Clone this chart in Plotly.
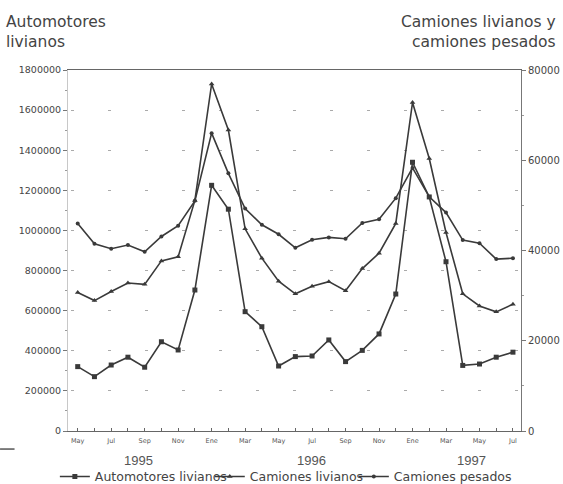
import plotly.graph_objects as go

# --- data -----------------------------------------------------------------
meses = ["May", "Jun", "Jul", "Ago", "Sep", "Oct", "Nov", "Dic",
         "Ene", "Feb", "Mar", "Abr", "May", "Jun", "Jul", "Ago", "Sep", "Oct", "Nov", "Dic",
         "Ene", "Feb", "Mar", "Abr", "May", "Jun", "Jul"]
anios = ["1995", "1996", "1997"]
anio_pos = [3.66, 13.95, 23.5]

automotores_livianos = [321000, 271000, 329000, 368000, 318000, 445000, 404000, 703000,
                        1225000, 1106000, 595000, 520000, 324000, 371000, 374000, 454000,
                        346000, 402000, 484000, 683000, 1340000, 1167000, 844000, 327000,
                        334000, 368000, 393000]

camiones_livianos = [30700, 28900, 30900, 32800, 32500, 37700, 38600, 51100,
                     76900, 66700, 44800, 38300, 33200, 30400, 32100, 33100,
                     31100, 36000, 39400, 46000, 72800, 60400, 44000, 30400,
                     27700, 26400, 28100]

camiones_pesados = [46000, 41500, 40400, 41200, 39700, 43100, 45500, 51000,
                    66000, 57100, 49300, 45700, 43600, 40600, 42400, 42900,
                    42600, 46100, 46900, 51600, 58300, 51900, 48400, 42300,
                    41600, 38100, 38300]

x_idx = list(range(len(meses)))
tick_text = [m if i % 2 == 0 else "" for i, m in enumerate(meses)]

LINE = "#3a3a3a"
TXT = "#444444"

fig = go.Figure()
fig.add_trace(go.Scatter(
    x=x_idx, y=automotores_livianos, name="Automotores livianos",
    mode="lines+markers", yaxis="y", legend="legend",
    line=dict(color=LINE, width=1.6),
    marker=dict(symbol="square", size=5, color=LINE)))
fig.add_trace(go.Scatter(
    x=x_idx, y=camiones_livianos, name="Camiones livianos",
    mode="lines+markers", yaxis="y2", legend="legend2",
    line=dict(color=LINE, width=1.6),
    marker=dict(symbol="triangle-up", size=5, color=LINE)))
fig.add_trace(go.Scatter(
    x=x_idx, y=camiones_pesados, name="Camiones pesados",
    mode="lines+markers", yaxis="y2", legend="legend3",
    line=dict(color=LINE, width=1.6),
    marker=dict(symbol="circle", size=4, color=LINE)))

annotations = [
    dict(text="Automotores<br>livianos", xref="paper", yref="paper",
         x=-0.141, y=1.163, xanchor="left", yanchor="top", align="left",
         showarrow=False, font=dict(size=15.5, color=TXT)),
    dict(text="Camiones livianos y<br>camiones pesados", xref="paper", yref="paper",
         x=1.082, y=1.163, xanchor="right", yanchor="top", align="right",
         showarrow=False, font=dict(size=15.5, color=TXT)),
]
for a, p in zip(anios, anio_pos):
    annotations.append(dict(text=a, xref="x", yref="paper", x=p, y=-0.083,
                            xanchor="center", yanchor="middle", showarrow=False,
                            font=dict(family="Liberation Sans", size=13, color="#555")))


def leg(xpos):
    return dict(orientation="h", x=xpos, y=-0.127, xanchor="left", yanchor="middle",
                font=dict(size=12.5, color=TXT), itemwidth=30,
                bgcolor="rgba(0,0,0,0)")


fig.update_layout(
    width=563, height=484,
    margin=dict(l=68, r=42, t=70, b=53, autoexpand=False),
    paper_bgcolor="white", plot_bgcolor="white",
    font=dict(family="DejaVu Sans", color=TXT),
    showlegend=True,
    legend=leg(-0.029), legend2=leg(0.313), legend3=leg(0.631),
    xaxis=dict(range=[-0.58, 26.48], tickmode="array", tickvals=x_idx, ticktext=tick_text,
               ticks="inside", ticklen=3, tickcolor="#666", showline=True, linecolor="#666",
               linewidth=1.2, mirror=True, showgrid=False, zeroline=False, automargin=False,
               ticklabelstandoff=3,
               tickfont=dict(size=6.5, color="#555")),
    yaxis=dict(range=[0, 1800000], tick0=0, dtick=200000, tickformat="d",
               ticks="outside", ticklen=4, tickcolor="#777", automargin=False,
               minor=dict(dtick=100000, ticks="outside", ticklen=2, tickcolor="#999"),
               showline=True, linecolor="#c8c8c8", showgrid=True, gridcolor="#aaaaaa",
               griddash="0px,3px,3px,31px", gridwidth=1, zeroline=False,
               tickfont=dict(size=9.5, color=TXT)),
    yaxis2=dict(range=[0, 80000], tick0=0, dtick=20000, tickformat="d",
                overlaying="y", side="right", anchor="x", automargin=False,
                ticks="outside", ticklen=4, tickcolor="#777",
                minor=dict(dtick=10000, ticks="outside", ticklen=2, tickcolor="#999"),
                showline=True, linecolor="#777", showgrid=False, zeroline=False,
                tickfont=dict(size=10, color=TXT)),
    annotations=annotations,
    shapes=[dict(type="line", xref="paper", yref="paper", x0=-0.15, x1=-0.118,
                 y0=-0.05, y1=-0.05, line=dict(color="#555", width=1.5))],
)

fig.write_html("out.html", config={"displayModeBar": False},
               post_script="document.body.style.margin='0px';document.body.style.overflow='hidden';")
